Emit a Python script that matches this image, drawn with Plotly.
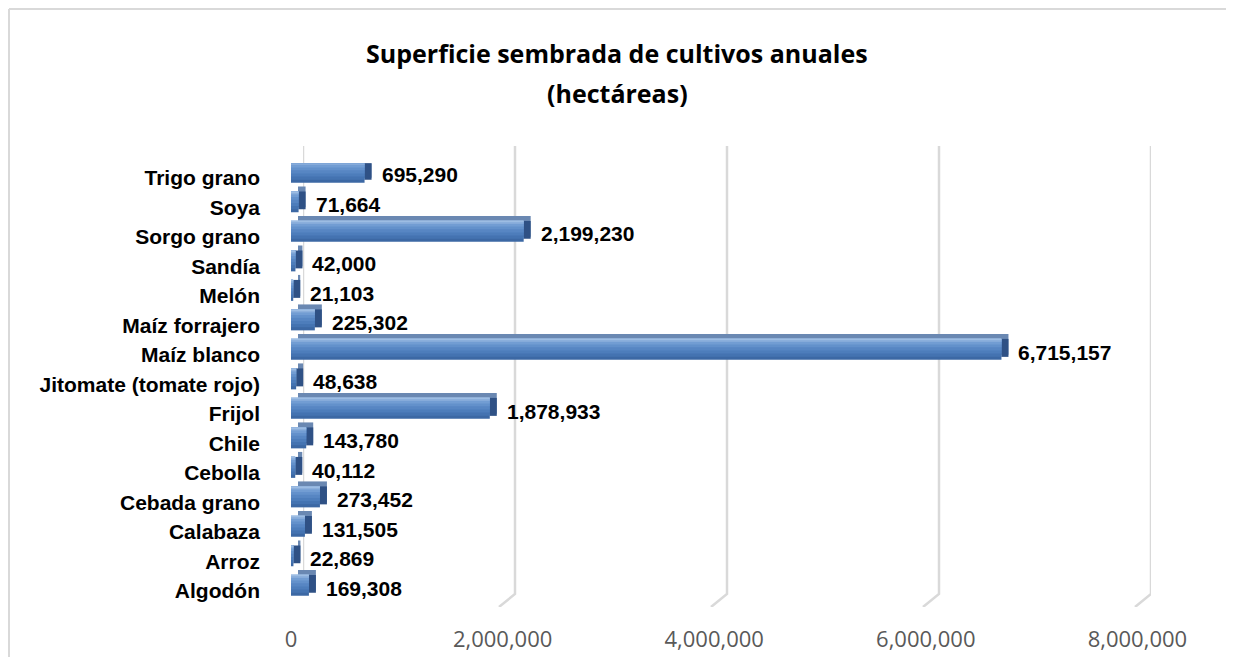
import plotly.graph_objects as go

# data, bottom to top as drawn on the chart
crops = ["Algodón", "Arroz", "Calabaza", "Cebada grano", "Cebolla", "Chile", "Frijol",
         "Jitomate (tomate rojo)", "Maíz blanco", "Maíz forrajero", "Melón", "Sandía",
         "Sorgo grano", "Soya", "Trigo grano"]
hectares = [169308, 22869, 131505, 273452, 40112, 143780, 1878933,
            48638, 6715157, 225302, 21103, 42000,
            2199230, 71664, 695290]
x_ticks = [0, 2000000, 4000000, 6000000, 8000000]
title_lines = ["Superficie sembrada de cultivos anuales", "(hectáreas)"]

# the page body has an 8px margin, so shrink the figure to avoid scrollbars
PAGE_W, PAGE_H, BODY = 1234, 665, 8
W, H = PAGE_W - 2 * BODY, PAGE_H - 2 * BODY
X_MAX = 8000000


def fx(px):
    return (px - BODY) / W


def fy(px):
    return 1 - (px - BODY) / H


# front (bars) and back wall (grid) placement in screen px
front_x = (291, 1137.4)
back_x = (303, 1151)
front_y = (163.25, 605.75)
wall_top, wall_bottom, floor_front = 146, 594, 607

px_per_unit = (front_x[1] - front_x[0]) / X_MAX
depth = 7 / px_per_unit          # right side face, in data units
lift = 5 / ((front_y[1] - front_y[0]) / len(crops))  # top face, in category units

bar_w = 0.71
front_off = -bar_w / 2 + 0.19

fig = go.Figure()

# back wall gridlines with the little floor segment towards the front
back_ppu = (back_x[1] - back_x[0]) / X_MAX
floor_dx = 16 / back_ppu
floor_dy = (floor_front - wall_bottom) / (wall_bottom - wall_top)
gx, gy = [], []
for t in x_ticks:
    gx += [t, t, t - floor_dx, None]
    gy += [1, 0, -floor_dy, None]
fig.add_trace(go.Scatter(x=gx, y=gy, mode="lines", line=dict(color="#D9D9D9", width=2.5),
                         hoverinfo="skip", showlegend=False, xaxis="x", yaxis="y",
                         cliponaxis=False))

common = dict(y=crops, orientation="h", xaxis="x2", yaxis="y2", showlegend=False,
              hoverinfo="skip")

# back silhouette -> top face
fig.add_trace(go.Bar(x=hectares, base=[depth] * len(crops), width=bar_w,
                     offset=front_off + lift, marker=dict(color="#6A88B2", line_width=0),
                     **common))
# right side face
fig.add_trace(go.Bar(x=[depth] * len(crops), base=hectares, width=bar_w - lift * 0.6,
                     offset=front_off + lift * 0.6, marker=dict(color="#2F5185", line_width=0),
                     **common))

# front face with a vertical gradient built from stacked strips
layers = [(1.0, "#3C68A4"), (0.85, "#4473B1"), (0.7, "#4D7DBB"), (0.55, "#5786C3"),
          (0.4, "#6391CB"), (0.27, "#729DD3"), (0.15, "#86ABDA"), (0.06, "#9DBDE3")]
for frac, col in layers:
    fig.add_trace(go.Bar(x=hectares, width=bar_w * frac,
                         offset=front_off + bar_w * (1 - frac),
                         marker=dict(color=col, line_width=0), **common))

annotations = []
for crop, v in zip(crops, hectares):
    annotations.append(dict(x=v, y=crop, xref="x2", yref="y2", text=f"<b>{v:,}</b>",
                            showarrow=False, xanchor="left", yanchor="middle",
                            xshift=15, yshift=3,
                            font=dict(family="Liberation Sans", size=21, color="#000000")))

for line, ypx in zip(title_lines, [53, 93]):
    annotations.append(dict(x=fx(PAGE_W / 2), y=fy(ypx), xref="paper", yref="paper",
                            xanchor="center", yanchor="middle",
                            text="<b>" + line + "</b>", showarrow=False,
                            font=dict(family="Open Sans", size=25, color="#000000")))

fig.update_layout(
    width=W, height=H,
    margin=dict(l=0, r=0, t=0, b=0, autoexpand=False),
    paper_bgcolor="white", plot_bgcolor="rgba(0,0,0,0)",
    barmode="overlay",
    annotations=annotations,
    xaxis=dict(domain=[fx(back_x[0]), fx(back_x[1])], range=[0, X_MAX],
               visible=False, anchor="y", fixedrange=True, automargin=False),
    yaxis=dict(domain=[fy(floor_front), fy(wall_top)], range=[-floor_dy, 1],
               visible=False, anchor="x", fixedrange=True, automargin=False),
    xaxis2=dict(domain=[fx(front_x[0]), fx(front_x[1])], range=[0, X_MAX],
                tickvals=x_ticks, tickformat=",d", showgrid=False, zeroline=False,
                showline=False, anchor="y2", ticks="", ticklabelstandoff=18,
                tickfont=dict(family="Open Sans", size=22, color="#595959"),
                fixedrange=True, automargin=False),
    yaxis2=dict(domain=[fy(front_y[1]), fy(front_y[0])],
                range=[-0.5, len(crops) - 0.5], type="category",
                categoryorder="array", categoryarray=crops,
                tickprefix="<b>", ticksuffix="</b>",
                showgrid=False, zeroline=False, showline=False, ticks="",
                ticklabelstandoff=30, anchor="x2",
                tickfont=dict(family="Liberation Sans", size=21, color="#000000"),
                fixedrange=True, automargin=False),
    shapes=[dict(type="line", xref="paper", yref="paper", x0=1 / W, x1=1 / W,
                 y0=0, y1=fy(9), line=dict(color="#D9D9D9", width=2)),
            dict(type="line", xref="paper", yref="paper", x0=1 / W, x1=1,
                 y0=fy(9), y1=fy(9), line=dict(color="#D9D9D9", width=2))],
)

fig.write_html("out.html", config={"responsive": False, "displayModeBar": False})
